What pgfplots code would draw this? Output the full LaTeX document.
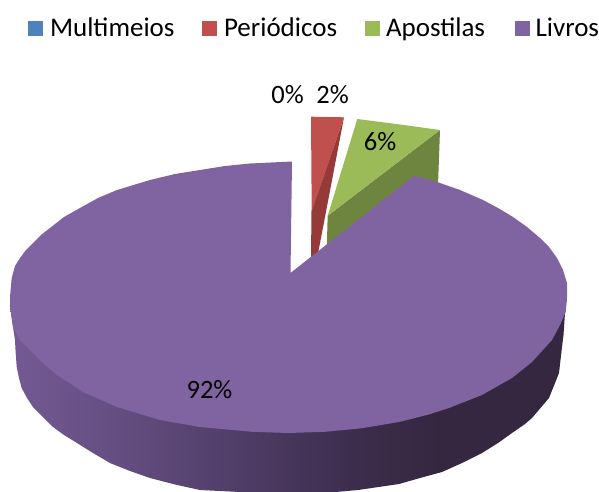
\documentclass[border=0pt]{standalone}
\usepackage{pgfplots}
\pgfplotsset{compat=1.18}
\usepackage{fontspec}
\setmainfont{Carlito}
\definecolor{cA}{HTML}{4F81BD}
\definecolor{cB}{HTML}{C0504D}
\definecolor{cBd}{HTML}{953A38}
\definecolor{cC}{HTML}{9BBB59}
\definecolor{cCd}{HTML}{6E853F}
\definecolor{cD}{HTML}{8064A2}
\definecolor{sl0}{HTML}{745A94}
\definecolor{sl1}{HTML}{624C7E}
\definecolor{sl2}{HTML}{4F3C66}
\definecolor{sl3}{HTML}{3C2D4D}
\definecolor{sl4}{HTML}{35273F}
\pgfdeclarehorizontalshading{sidepurple}{100bp}{
 color(0bp)=(sl0); color(25bp)=(sl0); color(36bp)=(sl1); color(46bp)=(sl2); color(56bp)=(sl3); color(64bp)=(sl4); color(100bp)=(sl4)}
\begin{document}
\begin{tikzpicture}
\begin{axis}[
 scale only axis, width=599pt, height=492pt,
 xmin=0, xmax=599, ymin=0, ymax=492, y dir=reverse,
 hide axis, clip=true,
 every axis plot/.append style={line join=round},
]
% page
\addplot[draw=none, fill=white] coordinates {(0,0)(599,0)(599,492)(0,492)} -- cycle;
% legend keys
\addplot[draw=none, fill=cA] coordinates {(28,21)(43,21)(43,36)(28,36)} -- cycle;
\addplot[draw=none, fill=cB] coordinates {(202,21)(217,21)(217,36)(202,36)} -- cycle;
\addplot[draw=none, fill=cC] coordinates {(365,21)(380,21)(380,36)(365,36)} -- cycle;
\addplot[draw=none, fill=cD] coordinates {(515,21)(530,21)(530,36)(515,36)} -- cycle;
% Periodicos
\addplot[draw=none, fill=cBd] coordinates {(344,117.3)(318.3,252)(311,258)(311.5,211)} -- cycle;
\addplot[draw=none, fill=cB] coordinates {(311,116.7)(344,117.3)(311.7,211.7)} -- cycle;
% Apostilas
\addplot[draw=none, fill=cCd] coordinates {(327.7,215.7)(440,130)(438,185)(326.7,250)} -- cycle;
\addplot[draw=none, fill=cC] coordinates {(357.3,119)(400,124.5)(440,130)(327.7,215.7)} -- cycle;
% Livros side
\addplot[draw=none, shading=sidepurple] coordinates {
(10,297)(33,340)(288.5,420)(567,297)
(565,313)(563.5,335)(562,347)(559,373)(549,398)(532,418)(525,424)(512,433)(498,443)(482,453)(462,463)(442,472)(420,478)(399,484)(358,490)(330,492.5)(250,492.5)(200,490)(175,484.5)(150,478)(130,471)(110,463)(93,453)(77,443)(64,435)(53,427)(43,417)(33,407)(27,398)(21.7,388)(19,378)(16.7,367)(15.5,350)(15,340)(13,327)(10,307)
} -- cycle;
% Livros top
\addplot[draw=none, fill=cD] coordinates {
(290.5,273)(292,161.5)(250,163.5)(225,166)(200,170)(175,174)(150,180)(117,190)(98,198)(80,208)(64,217)(50,228)(41,235)(33,243)(26,250)(20,258)(15,266)(11.7,278)(10,297)(10.5,307)(13,327)(20,340)(33,353)(44,364)(57,375)(83,392)(117,407)(160,420)(200,427)(252.2,431.8)(288.5,433)(324.8,431.8)(360.6,428.4)(399,422)(427.75,414.8)(449,408)(482,395)(512,378)(532,362)(552,340)(560,325)(565.7,312)(567,297)(567,283)(563,270)(557,258)(549,247)(540,238)(527,227)(513,217)(498,208)(483,200)(460,190)(437,182)(414,175.7)
} -- cycle;
% texts
\node[anchor=base west, font=\fontsize{27}{27}\selectfont] at (axis cs:46.5,36.5) {Multimeios};
\node[anchor=base west, font=\fontsize{27}{27}\selectfont] at (axis cs:220.5,36.5) {Periódicos};
\node[anchor=base west, font=\fontsize{27}{27}\selectfont] at (axis cs:382.5,36.5) {Apostilas};
\node[anchor=base west, font=\fontsize{27}{27}\selectfont] at (axis cs:532,36.5) {Livros};
\node[font=\fontsize{26.5}{26.5}\selectfont] at (axis cs:287.5,95) {0\%};
\node[font=\fontsize{26.5}{26.5}\selectfont] at (axis cs:332.5,95) {2\%};
\node[font=\fontsize{26.5}{26.5}\selectfont] at (axis cs:380,141.5) {6\%};
\node[font=\fontsize{26.5}{26.5}\selectfont] at (axis cs:209.5,390) {92\%};
\end{axis}
\end{tikzpicture}
\end{document}
